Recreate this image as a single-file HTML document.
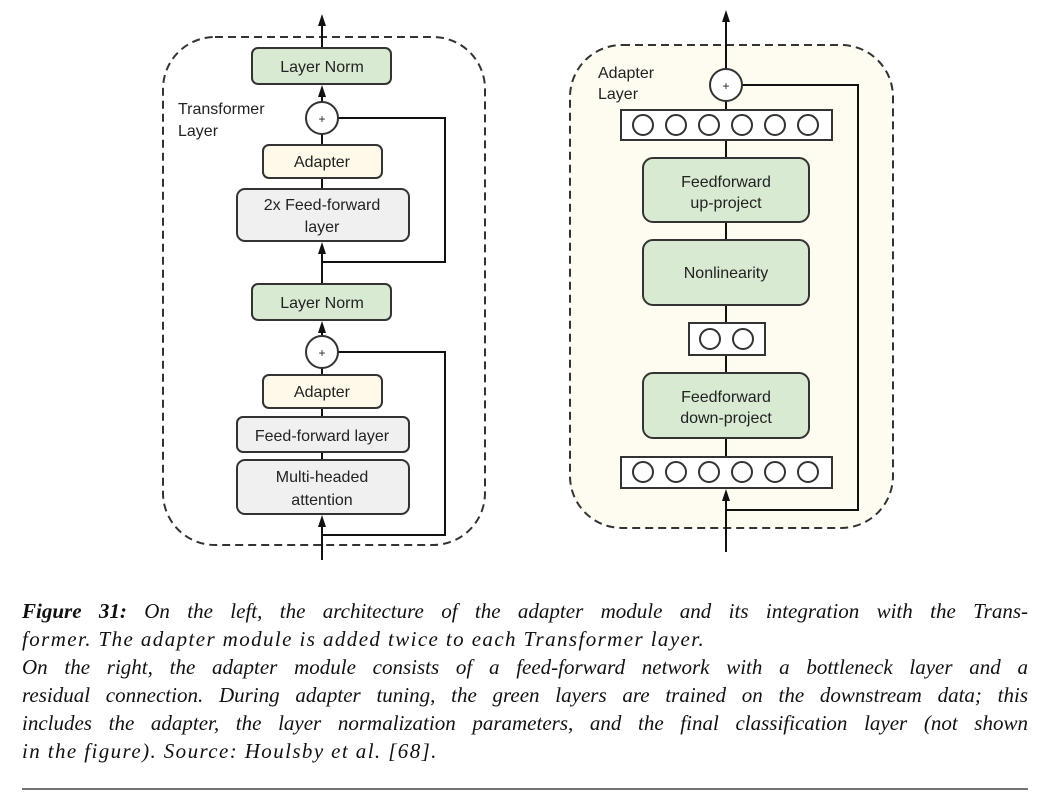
<!DOCTYPE html>
<html><head><meta charset="utf-8"><style>
html,body{margin:0;padding:0;background:#fff;width:1052px;height:801px;overflow:hidden;position:relative}
svg{position:absolute;left:0;top:0}
.cap{position:absolute;left:22px;width:1006px;font-family:"Liberation Serif",serif;font-style:italic;font-size:21px;letter-spacing:1.4px;color:#111;white-space:nowrap}
.j{text-align:justify;text-align-last:justify;white-space:normal;letter-spacing:0}
</style></head><body>
<svg width="1052" height="801" viewBox="0 0 1052 801" font-family="Liberation Sans, sans-serif">
<rect x="163" y="37" width="322" height="508" rx="52" fill="none" stroke="#333" stroke-width="2" stroke-dasharray="8,5"/>
<g stroke="#111" stroke-width="2" fill="none">
<line x1="322" y1="48" x2="322" y2="20"/>
<line x1="322" y1="102" x2="322" y2="90"/>
<line x1="322" y1="134" x2="322" y2="145"/>
<line x1="322" y1="178" x2="322" y2="189"/>
<line x1="322" y1="284" x2="322" y2="248"/>
<polyline points="338,118 445,118 445,262 322,262"/>
<line x1="322" y1="336" x2="322" y2="326"/>
<line x1="322" y1="368" x2="322" y2="375"/>
<line x1="322" y1="408" x2="322" y2="417"/>
<line x1="322" y1="452" x2="322" y2="460"/>
<line x1="322" y1="560" x2="322" y2="520"/>
<polyline points="338,352 445,352 445,535 322,535"/>
</g>
<g fill="#111">
<polygon points="318,26 322,14 326,26"/>
<polygon points="318,97 322,85 326,97"/>
<polygon points="318,254 322,242 326,254"/>
<polygon points="318,333 322,321 326,333"/>
<polygon points="318,527 322,515 326,527"/>
<polygon points="722,22 726,10 730,22"/>
</g>
<g stroke="#333" stroke-width="2">
<rect x="252" y="48" width="139" height="36" rx="6" fill="#d9ead3"/>
<circle cx="322" cy="118" r="16" fill="#fff"/>
<rect x="263" y="145" width="119" height="33" rx="6" fill="#fef9e9"/>
<rect x="237" y="189" width="172" height="52" rx="8" fill="#f0f0f0"/>
<rect x="252" y="284" width="139" height="36" rx="6" fill="#d9ead3"/>
<circle cx="322" cy="352" r="16" fill="#fff"/>
<rect x="263" y="375" width="119" height="33" rx="6" fill="#fef9e9"/>
<rect x="237" y="417" width="172" height="35" rx="6" fill="#f0f0f0"/>
<rect x="237" y="460" width="172" height="54" rx="8" fill="#f0f0f0"/>
</g>
<g font-size="16" fill="#222" text-anchor="middle">
<text x="322" y="72">Layer Norm</text>
<text x="322" y="123" font-size="12">+</text>
<text x="322" y="167">Adapter</text>
<text x="322" y="210">2x Feed-forward</text>
<text x="322" y="232">layer</text>
<text x="322" y="308">Layer Norm</text>
<text x="322" y="357" font-size="12">+</text>
<text x="322" y="397">Adapter</text>
<text x="322" y="441">Feed-forward layer</text>
<text x="322" y="482">Multi-headed</text>
<text x="322" y="505">attention</text>
</g>
<text x="178" y="114" font-size="16" fill="#222">Transformer</text>
<text x="178" y="136" font-size="16" fill="#222">Layer</text>
<rect x="570" y="45" width="323" height="483" rx="52" fill="#fefbf0" stroke="#333" stroke-width="2" stroke-dasharray="8,5"/>
<g stroke="#111" stroke-width="2" fill="none">
<line x1="726" y1="69" x2="726" y2="16"/>
<line x1="726" y1="101" x2="726" y2="110"/>
<line x1="726" y1="140" x2="726" y2="158"/>
<line x1="726" y1="222" x2="726" y2="240"/>
<line x1="726" y1="305" x2="726" y2="323"/>
<line x1="726" y1="355" x2="726" y2="373"/>
<line x1="726" y1="438" x2="726" y2="457"/>
<line x1="726" y1="552" x2="726" y2="495"/>
<polyline points="742,85 858,85 858,510 726,510"/>
</g>
<polygon points="722,501 726,489 730,501" fill="#111"/>
<g stroke="#333" stroke-width="2">
<circle cx="726" cy="85" r="16" fill="#fff"/>
<rect x="621" y="110" width="211" height="30" fill="#fff"/>
<rect x="643" y="158" width="166" height="64" rx="10" fill="#d9ead3"/>
<rect x="643" y="240" width="166" height="65" rx="10" fill="#d9ead3"/>
<rect x="689" y="323" width="76" height="32" fill="#fff"/>
<rect x="643" y="373" width="166" height="65" rx="10" fill="#d9ead3"/>
<rect x="621" y="457" width="211" height="31" fill="#fff"/>
<g fill="none">
<circle cx="643" cy="125" r="10"/><circle cx="676" cy="125" r="10"/><circle cx="709" cy="125" r="10"/><circle cx="742" cy="125" r="10"/><circle cx="775" cy="125" r="10"/><circle cx="808" cy="125" r="10"/>
<circle cx="710" cy="339" r="10"/><circle cx="743" cy="339" r="10"/>
<circle cx="643" cy="472" r="10"/><circle cx="676" cy="472" r="10"/><circle cx="709" cy="472" r="10"/><circle cx="742" cy="472" r="10"/><circle cx="775" cy="472" r="10"/><circle cx="808" cy="472" r="10"/>
</g>
</g>
<g font-size="16" fill="#222" text-anchor="middle">
<text x="726" y="90" font-size="12">+</text>
<text x="726" y="187">Feedforward</text>
<text x="726" y="208">up-project</text>
<text x="726" y="278">Nonlinearity</text>
<text x="726" y="402">Feedforward</text>
<text x="726" y="423">down-project</text>
</g>
<text x="598" y="78" font-size="16" fill="#222">Adapter</text>
<text x="598" y="99" font-size="16" fill="#222">Layer</text>
<line x1="22" y1="789" x2="1028" y2="789" stroke="#222" stroke-width="1.2"/>
</svg>
<div class="cap j" style="top:599px"><b>Figure 31:</b> On the left, the architecture of the adapter module and its integration with the Trans-</div>
<div class="cap" style="top:627px">former. The adapter module is added twice to each Transformer layer.</div>
<div class="cap j" style="top:655px">On the right, the adapter module consists of a feed-forward network with a bottleneck layer and a</div>
<div class="cap j" style="top:683px">residual connection. During adapter tuning, the green layers are trained on the downstream data; this</div>
<div class="cap j" style="top:711px">includes the adapter, the layer normalization parameters, and the final classification layer (not shown</div>
<div class="cap" style="top:739px">in the figure). Source: Houlsby et al. [68].</div>
</body></html>
